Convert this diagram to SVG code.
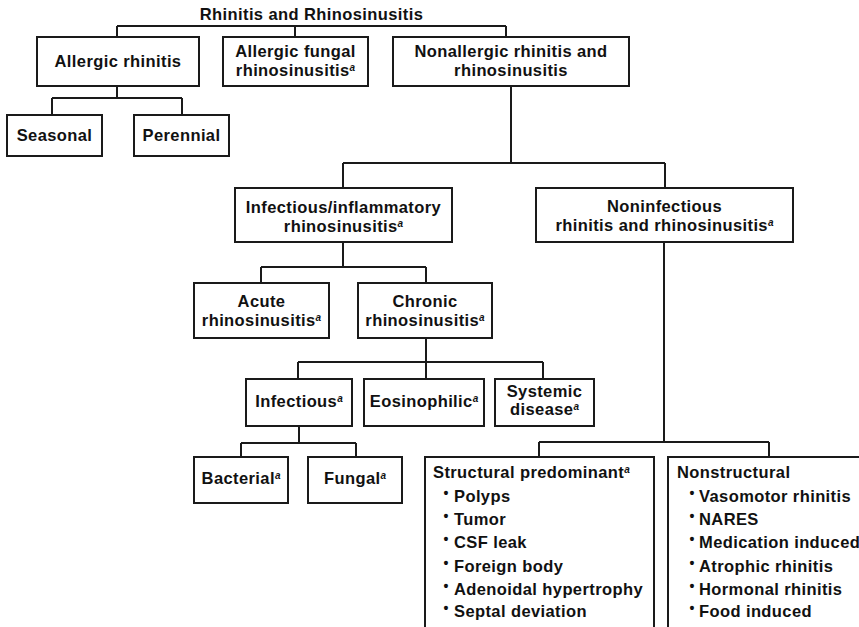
<svg xmlns="http://www.w3.org/2000/svg" width="859" height="627" viewBox="0 0 859 627">
  <style>
    .box { fill: #fff; stroke: #1a1a1a; stroke-width: 2; }
    .wire { fill: none; stroke: #1a1a1a; stroke-width: 2; }
    text { font-family: "Liberation Sans", Arial, Helvetica, sans-serif; font-weight: bold; font-size: 16.5px; letter-spacing: 0.4px; fill: #111; }
    .c { text-anchor: middle; }
    .sup { font-size: 10px; font-style: italic; letter-spacing: 0; }
    .dot { font-size: 14px; text-anchor: middle; letter-spacing: 0; }
  </style>
  <rect width="859" height="627" fill="#fff"/>

  <!-- tree connectors -->
  <g id="connectors" class="wire">
    <path d="M117 26 H506 M117 26 V37 M295 26 V37 M506 26 V37"/>
    <path d="M117 86 V98 M52 98 H182 M52 98 V115 M182 98 V115"/>
    <path d="M511 86 V163 M343 163 H665 M343 163 V188 M665 163 V188"/>
    <path d="M343 242 V267 M261 267 H426 M261 267 V283 M426 267 V283"/>
    <path d="M426 338 V379 M298 362 H543 M298 362 V379 M543 362 V379"/>
    <path d="M299 426 V443 M241 443 H356 M241 443 V457 M356 443 V457"/>
    <path d="M664 242 V442 M539 442 H769 M539 442 V457 M769 442 V457"/>
  </g>

  <g id="root">
    <text class="c" x="311.5" y="20">Rhinitis and Rhinosinusitis</text>
  </g>

  <g id="allergic-rhinitis">
    <rect class="box" x="37" y="37" width="162" height="49"/>
    <text class="c" x="118" y="67">Allergic rhinitis</text>
  </g>

  <g id="allergic-fungal">
    <rect class="box" x="223" y="37" width="145" height="49"/>
    <text class="c" x="295.5" y="57">Allergic fungal</text>
    <text class="c" x="295.5" y="76">rhinosinusitis<tspan class="sup" dy="-5">a</tspan></text>
  </g>

  <g id="nonallergic">
    <rect class="box" x="393" y="37" width="236" height="49"/>
    <text class="c" x="511" y="57">Nonallergic rhinitis and</text>
    <text class="c" x="511" y="76">rhinosinusitis</text>
  </g>

  <g id="seasonal">
    <rect class="box" x="7" y="115" width="95" height="41"/>
    <text class="c" x="54.5" y="141">Seasonal</text>
  </g>

  <g id="perennial">
    <rect class="box" x="134" y="115" width="95" height="41"/>
    <text class="c" x="181.5" y="141">Perennial</text>
  </g>

  <g id="infectious-inflammatory">
    <rect class="box" x="235" y="188" width="217" height="54"/>
    <text class="c" x="343.5" y="213">Infectious/inflammatory</text>
    <text class="c" x="343.5" y="232">rhinosinusitis<tspan class="sup" dy="-5">a</tspan></text>
  </g>

  <g id="noninfectious">
    <rect class="box" x="536" y="188" width="257" height="54"/>
    <text class="c" x="664.5" y="212">Noninfectious</text>
    <text class="c" x="664.5" y="231">rhinitis and rhinosinusitis<tspan class="sup" dy="-5">a</tspan></text>
  </g>

  <g id="acute">
    <rect class="box" x="194" y="283" width="135" height="55"/>
    <text class="c" x="261.5" y="307">Acute</text>
    <text class="c" x="261.5" y="326">rhinosinusitis<tspan class="sup" dy="-5">a</tspan></text>
  </g>

  <g id="chronic">
    <rect class="box" x="358" y="283" width="134" height="55"/>
    <text class="c" x="425" y="307">Chronic</text>
    <text class="c" x="425" y="326">rhinosinusitis<tspan class="sup" dy="-5">a</tspan></text>
  </g>

  <g id="infectious">
    <rect class="box" x="246" y="379" width="106" height="47"/>
    <text class="c" x="299" y="407">Infectious<tspan class="sup" dy="-5">a</tspan></text>
  </g>

  <g id="eosinophilic">
    <rect class="box" x="364" y="379" width="120" height="47"/>
    <text class="c" x="424" y="407">Eosinophilic<tspan class="sup" dy="-5">a</tspan></text>
  </g>

  <g id="systemic">
    <rect class="box" x="495" y="379" width="99" height="47"/>
    <text class="c" x="544.5" y="397">Systemic</text>
    <text class="c" x="544.5" y="415">disease<tspan class="sup" dy="-5">a</tspan></text>
  </g>

  <g id="bacterial">
    <rect class="box" x="194" y="457" width="94" height="46"/>
    <text class="c" x="241" y="484">Bacterial<tspan class="sup" dy="-5">a</tspan></text>
  </g>

  <g id="fungal">
    <rect class="box" x="308" y="457" width="94" height="46"/>
    <text class="c" x="355" y="484">Fungal<tspan class="sup" dy="-5">a</tspan></text>
  </g>

  <g id="structural">
    <rect class="box" x="425" y="457" width="229" height="190"/>
    <text x="433" y="478">Structural predominant<tspan class="sup" dy="-5">a</tspan></text>
    <g>
      <text class="dot" x="446" y="498">•</text><text x="454" y="502">Polyps</text>
      <text class="dot" x="446" y="521">•</text><text x="454" y="525">Tumor</text>
      <text class="dot" x="446" y="544">•</text><text x="454" y="548">CSF leak</text>
      <text class="dot" x="446" y="568">•</text><text x="454" y="572">Foreign body</text>
      <text class="dot" x="446" y="591">•</text><text x="454" y="595">Adenoidal hypertrophy</text>
      <text class="dot" x="446" y="613">•</text><text x="454" y="617">Septal deviation</text>
    </g>
  </g>

  <g id="nonstructural">
    <rect class="box" x="668" y="457" width="220" height="190"/>
    <text x="677" y="478">Nonstructural</text>
    <g>
      <text class="dot" x="692" y="498">•</text><text x="699" y="502">Vasomotor rhinitis</text>
      <text class="dot" x="692" y="521">•</text><text x="699" y="525">NARES</text>
      <text class="dot" x="692" y="544">•</text><text x="699" y="548">Medication induced</text>
      <text class="dot" x="692" y="568">•</text><text x="699" y="572">Atrophic rhinitis</text>
      <text class="dot" x="692" y="591">•</text><text x="699" y="595">Hormonal rhinitis</text>
      <text class="dot" x="692" y="613">•</text><text x="699" y="617">Food induced</text>
    </g>
  </g>
</svg>
